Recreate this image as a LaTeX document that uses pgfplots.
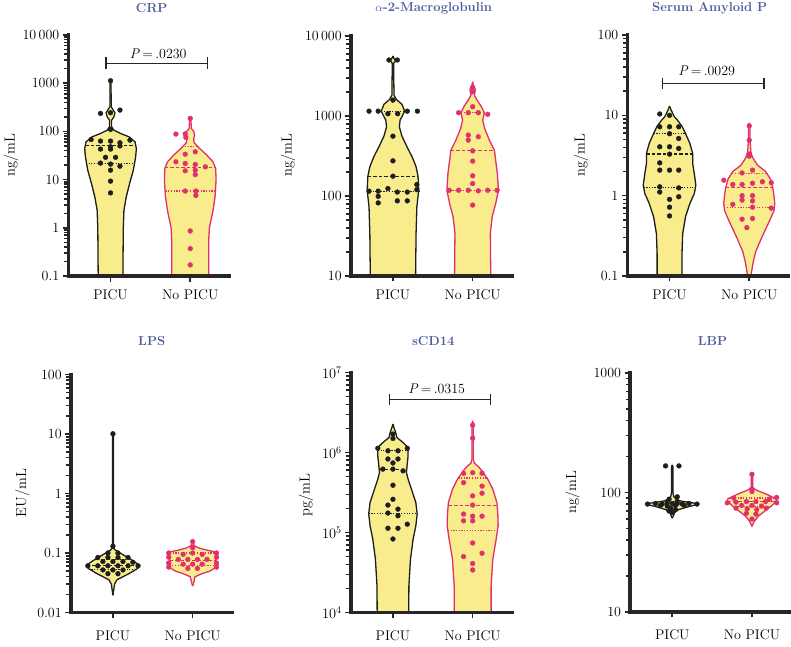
\documentclass[border=0pt]{standalone}
\usepackage{fontspec}
\usepackage{pgfplots}
\pgfplotsset{compat=1.18}
\usepackage{pgfplotstable}
\definecolor{vyel}{HTML}{F8EC8C}
\definecolor{vpink}{HTML}{E0306E}
\definecolor{vblk}{HTML}{1E1E1E}
\definecolor{axcol}{HTML}{262626}
\definecolor{tblue}{HTML}{4B5A9B}

\pgfplotsset{
  myviolinaxis/.style={
    scale only axis, width=161pt,
    xmin=-0.53, xmax=1.49,
    axis x line=bottom, axis y line=left,
    axis line style={-, line width=3.6pt, color=axcol, line cap=rect},
    axis on top, clip=false,
    tick align=outside, major tick length=5.5pt, minor tick length=4.5pt,
    tick style={line width=1.6pt, color=axcol},
    xtick={0,1}, xticklabels={PICU, No PICU},
    ticklabel style={font=\fontsize{14}{16}\selectfont, text=black},
  },
  medl/.style={line width=1.1pt, dash pattern=on 3.5pt off 2pt, forget plot},
  qrtl/.style={line width=1.1pt, dash pattern=on 1.2pt off 1.5pt, forget plot},
  dotsA/.style={only marks, mark=*, mark size=2.4pt, mark options={draw=vblk, fill=vblk}},
  dotsB/.style={only marks, mark=*, mark size=2.4pt, mark options={draw=vpink, fill=vpink}},
}

\newcommand{\violin}[3]{%
  \addplot[fill=vyel, draw=vyel, line width=0.8pt, forget plot] table[x expr=#2+\thisrow{w}, y=y] {#1} -- cycle;
  \addplot[fill=vyel, draw=vyel, line width=0.8pt, forget plot] table[x expr=#2-\thisrow{w}, y=y] {#1} -- cycle;
  \addplot[draw=#3, line width=1.3pt, forget plot] table[x expr=#2+\thisrow{w}, y=y] {#1};
  \addplot[draw=#3, line width=1.3pt, forget plot] table[x expr=#2-\thisrow{w}, y=y] {#1};
}

% ---------- violin outlines (value, half-width) ----------
\pgfplotstableread{
y w
0.1 0
0.1 0.155
1 0.160
2.31 0.168
4.37 0.197
8.28 0.239
15.7 0.286
29.7 0.315
44.2 0.324
60.8 0.307
77.3 0.231
90.6 0.126
106 0.042
125 0.013
171 0.013
201 0.042
243 0.055
286 0.029
324 0.008
1125 0.006
1200 0
}\crpA
\pgfplotstableread{
y w
0.1 0
0.1 0.231
0.5 0.231
1 0.24
2.3 0.286
4.4 0.311
9.7 0.324
17 0.319
23.3 0.286
32 0.21
44 0.118
58 0.05
68 0.042
84 0.055
101 0.042
115 0.013
186 0.008
195 0
}\crpB
\pgfplotstableread{
y w
10 0
10 0.284
34 0.29
73 0.30
118 0.323
176 0.315
232 0.29
309 0.24
412 0.176
560 0.113
733 0.08
889 0.09
981 0.113
1150 0.147
1400 0.113
1610 0.042
1820 0.013
4550 0.008
4910 0.034
5250 0.013
5620 0
}\amA
\pgfplotstableread{
y w
10 0
10 0.227
34 0.222
55 0.245
81 0.29
118 0.323
191 0.31
373 0.273
499 0.21
700 0.15
889 0.126
1097 0.147
1306 0.11
1580 0.055
1820 0.021
2130 0.034
2440 0.008
2680 0
}\amB
\pgfplotstableread{
y w
0.1 0
0.1 0.156
0.19 0.156
0.337 0.165
0.545 0.2
0.8 0.255
1.06 0.31
1.35 0.33
1.89 0.31
2.51 0.29
3.35 0.29
4.47 0.255
5.94 0.2
7.2 0.16
8.7 0.1
9.6 0.06
10.3 0.045
11.6 0.02
13 0
}\sapA
\pgfplotstableread{
y w
0.1 0
0.1 0.02
0.15 0.05
0.2 0.08
0.3 0.156
0.4 0.214
0.5 0.26
0.65 0.31
0.8 0.32
1.0 0.31
1.25 0.296
1.6 0.267
2.0 0.206
2.4 0.103
3 0.041
3.5 0.02
5 0.01
7.4 0.01
8 0
}\sapB
\pgfplotstableread{
y w
0.0195 0
0.022 0.006
0.03 0.02
0.0355 0.05
0.045 0.2
0.055 0.31
0.061 0.33
0.07 0.28
0.085 0.18
0.1 0.09
0.112 0.03
0.12 0.01
0.13 0.006
10 0.006
10.5 0
}\lpsA
\pgfplotstableread{
y w
0.028 0
0.03 0.008
0.04 0.03
0.045 0.12
0.05 0.22
0.056 0.28
0.07 0.29
0.09 0.29
0.105 0.28
0.11 0.2
0.12 0.09
0.13 0.03
0.14 0.01
0.15 0.005
0.16 0
}\lpsB
\pgfplotstableread{
y w
10000 0
10000 0.198
21500 0.2
46400 0.22
82600 0.253
121000 0.287
170000 0.304
237000 0.287
348000 0.232
464000 0.19
562000 0.169
681000 0.177
909000 0.19
1155000 0.19
1330000 0.127
1540000 0.05
1780000 0.034
2050000 0.013
2260000 0
}\scdA
\pgfplotstableread{
y w
10000 0
10000 0.232
21500 0.232
46400 0.253
82600 0.295
121000 0.32
170000 0.316
237000 0.304
348000 0.253
464000 0.19
590000 0.118
681000 0.063
736000 0.021
825000 0.008
2200000 0.008
2490000 0
}\scdB
\pgfplotstableread{
y w
61 0
63 0.01
68 0.03
72 0.08
76 0.2
79 0.3
80.5 0.32
82 0.25
85 0.1
88 0.05
92 0.02
100 0.008
165 0.008
170 0
}\lbpA
\pgfplotstableread{
y w
52 0
55 0.015
58 0.034
63.7 0.084
70.6 0.17
77.8 0.25
85 0.31
89 0.3
92 0.25
97 0.18
103 0.08
107 0.03
110 0.01
140 0.008
145 0
}\lbpB

\begin{document}
\begin{tikzpicture}
\useasboundingbox (0,0) rectangle (791pt,-646pt);

% ================= CRP =================
\begin{axis}[ymode=log, myviolinaxis, at={(68.3pt,-276pt)}, anchor=south west, height=241pt,
  xticklabel style={yshift=-5pt},
  ymin=0.1, ymax=10000, ytick={0.1,1,10,100,1000,10000},
  yticklabels={0.1,1,10,100,1000,10\,000},
  minor ytick={0.2,0.3,0.4,0.5,0.6,0.7,0.8,0.9,2,3,4,5,6,7,8,9,20,30,40,50,60,70,80,90,200,300,400,500,600,700,800,900,2000,3000,4000,5000,6000,7000,8000,9000}]
\violin{\crpA}{0}{vblk}
\violin{\crpB}{1}{vpink}
\addplot[medl, vblk] coordinates {(-0.318,52) (0.318,52)};
\addplot[qrtl, vblk] coordinates {(-0.31,22) (0.31,22)};
\addplot[medl, vpink] coordinates {(0.68,17.8) (1.32,17.8)};
\addplot[qrtl, vpink] coordinates {(0.69,5.8) (1.31,5.8)};
\addplot[qrtl, vpink] coordinates {(0.9,48) (1.1,48)};
\addplot[dotsA] coordinates {(0,1125) (-0.126,236) (0.118,277) (0,244) (0,110) (-0.244,68) (0.244,66) (-0.126,63) (0,63) (0.118,58) (0.118,50) (0,48) (-0.126,43) (0,43) (-0.063,29) (0.063,29) (-0.126,22) (0,21) (0.118,19) (0,15.7) (0,9.3) (0,5.3)};
\addplot[dotsB] coordinates {(1,186) (0.82,88) (0.937,89) (0.945,75) (1.063,37.7) (0.937,33.7) (0.82,23.4) (0.937,21.6) (1.063,20.6) (1.19,18.4) (0.937,15.2) (1.063,15.7) (1.063,12.7) (0.937,5.8) (1.07,5.8) (1.07,4.7) (1,0.86) (1,0.37) (1,0.17)};
\end{axis}

% ================= alpha-2-Macroglobulin =================
\begin{axis}[ymode=log, myviolinaxis, at={(350.7pt,-276pt)}, anchor=south west, height=240pt,
  xticklabel style={yshift=-5pt},
  ymin=10, ymax=10000, ytick={10,100,1000,10000},
  yticklabels={10,100,1000,10\,000},
  minor ytick={20,30,40,50,60,70,80,90,200,300,400,500,600,700,800,900,2000,3000,4000,5000,6000,7000,8000,9000}]
\violin{\amA}{0}{vblk}
\violin{\amB}{1}{vpink}
\addplot[medl, vblk] coordinates {(-0.315,177) (0.315,177)};
\addplot[qrtl, vblk] coordinates {(-0.322,115) (0.322,115)};
\addplot[qrtl, vblk] coordinates {(-0.147,1150) (0.147,1150)};
\addplot[medl, vpink] coordinates {(0.725,367) (1.275,367)};
\addplot[qrtl, vpink] coordinates {(0.677,118) (1.323,118)};
\addplot[qrtl, vpink] coordinates {(0.853,1100) (1.147,1100)};
\addplot[dotsA] coordinates {(-0.05,5010) (0.055,5010) (0,1580) (-0.3,1150) (-0.185,1150) (0.18,1150) (0.307,1150) (-0.063,1067) (0.059,1067) (0,560) (0,275) (0,177) (-0.3,115) (-0.185,115) (-0.063,124) (0.055,112) (0.18,112) (0.3,139) (0.3,120) (-0.185,99) (-0.185,82) (0.055,87) (0.18,87)};
\addplot[dotsB] coordinates {(1,2280) (1,2010) (1,1306) (0.824,1100) (0.945,1100) (1.071,1100) (1.189,1050) (0.945,577) (1.071,550) (0.945,500) (1,367) (1,273) (1,179) (1,143) (0.706,118) (0.824,118) (0.945,118) (1.071,116) (1.189,118) (1.307,118) (1,77)};
\end{axis}

% ================= Serum Amyloid P =================
\begin{axis}[ymode=log, myviolinaxis, at={(627.3pt,-276pt)}, anchor=south west, height=241pt,
  xticklabel style={yshift=-5pt},
  ymin=0.1, ymax=100, ytick={0.1,1,10,100},
  yticklabels={0.1,1,10,100},
  minor ytick={0.2,0.3,0.4,0.5,0.6,0.7,0.8,0.9,2,3,4,5,6,7,8,9,20,30,40,50,60,70,80,90}]
\violin{\sapA}{0}{vblk}
\violin{\sapB}{1}{vpink}
\addplot[medl, vblk] coordinates {(-0.29,3.3) (0.29,3.3)};
\addplot[qrtl, vblk] coordinates {(-0.2,5.9) (0.2,5.9)};
\addplot[qrtl, vblk] coordinates {(-0.325,1.26) (0.325,1.26)};
\addplot[medl, vpink] coordinates {(0.704,1.25) (1.296,1.25)};
\addplot[qrtl, vpink] coordinates {(0.685,0.72) (1.315,0.72)};
\addplot[qrtl, vpink] coordinates {(0.785,1.9) (1.215,1.9)};
\addplot[dotsA] coordinates {(-0.123,10.4) (0,10) (-0.123,7.2) (0,7.2) (0.115,7.2) (0,5.9) (0.115,5.15) (-0.123,4.06) (0,4.06) (0.115,3.87) (0,3.29) (-0.123,2.56) (-0.123,2.08) (0,2.08) (0.115,2.08) (-0.123,1.29) (0.115,1.25) (-0.123,1.11) (0.115,0.97) (0,0.9) (0,0.72) (0,0.56)};
\addplot[dotsB] coordinates {(1,7.4) (1,4.9) (1,3.3) (1,3.1) (0.91,1.92) (1.041,2.08) (0.68,1.56) (0.794,1.38) (0.91,1.38) (1.041,1.43) (1.165,1.49) (1.276,1.45) (0.91,1.0) (1.041,1.0) (0.91,0.88) (1.041,0.86) (0.794,0.78) (1.041,0.72) (1.276,0.70) (0.91,0.51) (1.041,0.52) (0.97,0.40)};
\end{axis}

% ================= LPS =================
\begin{axis}[ymode=log, myviolinaxis, at={(70.7pt,-612.5pt)}, anchor=south west, height=238pt,
  xticklabel style={yshift=-9pt},
  ymin=0.01, ymax=100, ytick={0.01,0.1,1,10,100},
  yticklabels={0.01,0.1,1,10,100},
  minor ytick={0.02,0.03,0.04,0.05,0.06,0.07,0.08,0.09,0.2,0.3,0.4,0.5,0.6,0.7,0.8,0.9,2,3,4,5,6,7,8,9,20,30,40,50,60,70,80,90}]
\violin{\lpsA}{0}{vblk}
\violin{\lpsB}{1}{vpink}
\addplot[medl, vblk] coordinates {(-0.33,0.062) (0.33,0.062)};
\addplot[qrtl, vblk] coordinates {(-0.27,0.052) (0.27,0.052)};
\addplot[qrtl, vblk] coordinates {(-0.22,0.078) (0.22,0.078)};
\addplot[medl, vpink] coordinates {(0.71,0.076) (1.29,0.076)};
\addplot[qrtl, vpink] coordinates {(0.71,0.062) (1.29,0.062)};
\addplot[qrtl, vpink] coordinates {(0.715,0.1) (1.285,0.1)};
\addplot[dotsA] coordinates {(0,10.1) (0,0.13) (-0.063,0.10) (0.063,0.10) (-0.19,0.084) (-0.063,0.084) (0.063,0.084) (0.19,0.084) (-0.126,0.072) (0,0.072) (0.126,0.072) (0.25,0.07) (-0.315,0.061) (-0.19,0.061) (-0.063,0.061) (0.063,0.061) (0.19,0.061) (0.315,0.061) (-0.126,0.052) (0,0.052) (0.126,0.052) (-0.063,0.045) (0.063,0.045)};
\addplot[dotsB] coordinates {(1,0.155) (1,0.123) (0.7,0.1) (0.7,0.085) (0.7,0.068) (0.7,0.058) (1.3,0.1) (1.3,0.085) (1.3,0.068) (1.3,0.058) (0.88,0.095) (1,0.1) (1.12,0.095) (0.82,0.078) (0.94,0.078) (1.06,0.078) (1.18,0.078) (0.88,0.065) (1,0.065) (1.12,0.065) (0.94,0.055) (1.06,0.055)};
\end{axis}

% ================= sCD14 =================
\begin{axis}[ymode=log, myviolinaxis, at={(350.7pt,-612.5pt)}, anchor=south west, height=240pt,
  xticklabel style={yshift=-9pt},
  ymin=10000, ymax=10000000, ytick={10000,100000,1000000,10000000},
  yticklabels={$10^4$,$10^5$,$10^6$,$10^7$},
  minor ytick={20000,30000,40000,50000,60000,70000,80000,90000,200000,300000,400000,500000,600000,700000,800000,900000,2000000,3000000,4000000,5000000,6000000,7000000,8000000,9000000}]
\violin{\scdA}{0}{vblk}
\violin{\scdB}{1}{vpink}
\addplot[medl, vblk] coordinates {(-0.172,6.2e5) (0.172,6.2e5)};
\addplot[qrtl, vblk] coordinates {(-0.19,1.05e6) (0.19,1.05e6)};
\addplot[qrtl, vblk] coordinates {(-0.304,1.75e5) (0.304,1.75e5)};
\addplot[medl, vpink] coordinates {(0.7,2.2e5) (1.3,2.2e5)};
\addplot[qrtl, vpink] coordinates {(0.82,4.8e5) (1.18,4.8e5)};
\addplot[qrtl, vpink] coordinates {(0.69,1.05e5) (1.31,1.05e5)};
\addplot[dotsA] coordinates {(0,1.7e6) (0,1.5e6) (-0.19,1.13e6) (-0.063,1.05e6) (0.063,1.05e6) (0.18,1.13e6) (-0.063,8.3e5) (0.063,8.3e5) (0,7.4e5) (-0.127,6.2e5) (0,6.2e5) (0.127,5.9e5) (0,3.9e5) (0,2.6e5) (-0.063,2.2e5) (0.063,1.96e5) (-0.063,1.75e5) (0.063,1.62e5) (0.18,1.27e5) (-0.063,1.13e5) (0.063,1.13e5) (0,8.3e4)};
\addplot[dotsB] coordinates {(1,2.2e6) (1,1.51e6) (0.886,5.5e5) (1,5.6e5) (1.118,5.5e5) (0.886,4.2e5) (1.118,3.8e5) (1.118,3.1e5) (1,2.87e5) (1,2.2e5) (0.886,1.7e5) (1,1.6e5) (1.118,1.6e5) (0.886,1.4e5) (1,1.4e5) (1,7.4e4) (1.118,5.5e4) (0.886,5.0e4) (1,4.1e4) (1,3.4e4)};
\end{axis}

% ================= LBP =================
\begin{axis}[ymode=log, myviolinaxis, at={(630pt,-612pt)}, anchor=south west, height=239pt,
  xticklabel style={yshift=-9pt},
  ymin=10, ymax=1000, ytick={10,100,1000},
  yticklabels={10,100,1000},
  minor ytick={20,30,40,50,60,70,80,90,200,300,400,500,600,700,800,900}]
\violin{\lbpA}{0}{vblk}
\violin{\lbpB}{1}{vpink}
\addplot[medl, vpink] coordinates {(0.69,84) (1.31,84)};
\addplot[qrtl, vpink] coordinates {(0.72,90) (1.28,90)};
\addplot[qrtl, vpink] coordinates {(0.76,76) (1.24,76)};
\addplot[dotsA] coordinates {(-0.084,167) (0.084,167) (0.063,92) (-0.04,88) (-0.31,80) (-0.21,81) (-0.126,80) (-0.063,82) (0,81) (0.063,81) (0.126,80) (0.21,81) (0.31,80) (-0.15,78) (-0.063,77) (0.04,78) (0.15,78) (-0.02,74) (0.04,72) (0,68) (-0.04,70) (0.06,84)};
\addplot[dotsB] coordinates {(1,142) (1,107) (1,102) (0.772,90) (1.31,91) (1.22,88) (0.69,82) (0.8,83) (0.93,84) (1.05,84) (1.17,84) (1.31,82) (0.87,78) (1,78) (1.12,77) (0.8,74) (0.94,73) (1.06,72) (1.18,74) (0.93,67) (1.05,66) (1,60)};
\end{axis}

% ================= titles =================
\begin{scope}[every node/.style={text=tblue, font=\bfseries\fontsize{13}{15}\selectfont}]
\node at (151.7pt,-8pt) {CRP};
\node at (433.7pt,-8pt) {$\alpha$-2-Macroglobulin};
\node at (709.7pt,-8pt) {Serum Amyloid P};
\node at (151.7pt,-341pt) {LPS};
\node at (433.3pt,-341pt) {sCD14};
\node at (712.5pt,-341pt) {LBP};
\end{scope}

% ================= y labels =================
\begin{scope}[every node/.style={rotate=90, font=\fontsize{14.5}{16}\selectfont}]
\node at (11pt,-155pt) {ng/mL};
\node at (288pt,-155pt) {ng/mL};
\node at (581pt,-155pt) {ng/mL};
\node at (22.5pt,-493pt) {EU/mL};
\node at (306pt,-495pt) {pg/mL};
\node at (572.5pt,-492pt) {ng/mL};
\end{scope}

% ================= significance brackets =================
\begin{scope}[line width=1.4pt, draw=axcol]
\draw (106pt,-63.3pt) -- (207.7pt,-63.3pt);
\draw (106pt,-57.3pt) -- (106pt,-69pt);
\draw (207.7pt,-57.3pt) -- (207.7pt,-69pt);
\draw (662.3pt,-83.3pt) -- (764pt,-83.3pt);
\draw (662.3pt,-77.7pt) -- (662.3pt,-89pt);
\draw (764pt,-77.7pt) -- (764pt,-89pt);
\draw (389.3pt,-399.3pt) -- (490.7pt,-399.3pt);
\draw (389.3pt,-394pt) -- (389.3pt,-404.7pt);
\draw (490.7pt,-394pt) -- (490.7pt,-404.7pt);
\end{scope}
\begin{scope}[every node/.style={font=\fontsize{14}{16}\selectfont}]
\node at (158.3pt,-54pt) {\textit{P}\,=\,.0230};
\node at (706.7pt,-71pt) {\textit{P}\,=\,.0029};
\node at (436.7pt,-389pt) {\textit{P}\,=\,.0315};
\end{scope}
\end{tikzpicture}
\end{document}
